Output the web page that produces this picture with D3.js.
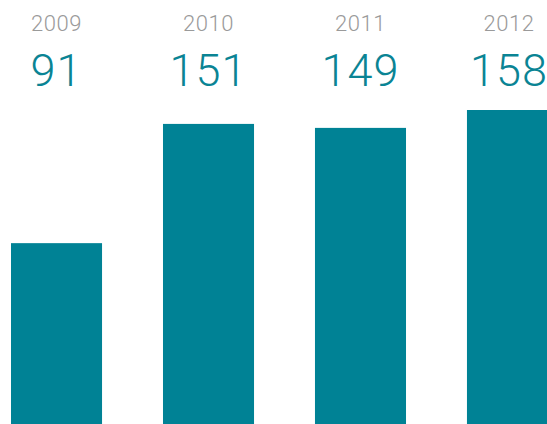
<html>
<head>
  <title></title>
  <style>
    body { margin: 0; background: #fff; }
    svg { display: block; }
  </style>
</head>
<body>
</body>
</html>

<script src="https://d3js.org/d3.v7.min.js"></script>
<script type="text/javascript">

var width = 547,
    height = 424;

var years = ["2009", "2010", "2011", "2012"];
var values = [91, 151, 149, 158];

var data = years.map(function(d, i){ return {year: d, value: values[i]}; });

// bars run past the right edge a little, like in the original
var x = d3.scaleBand().domain(years).range([11, 558]).paddingInner(0.401).paddingOuter(0);
var y = d3.scaleLinear().domain([0, 158]).range([height, 110]);

var svg = d3.select("body").append("svg").attr("width", width).attr("height", height);

svg.selectAll("rect")
  .data(data)
  .enter()
  .append("rect")
  .attr("x", function(d){ return x(d.year); })
  .attr("y", function(d){ return y(d.value); })
  .attr("width", x.bandwidth())
  .attr("height", function(d){ return y(0) - y(d.value); })
  .style("fill", "#008295");

// keep the last labels inside the window
function cx(d){ return Math.min(x(d.year) + x.bandwidth() / 2, 509); }

svg.selectAll("text.year")
  .data(data)
  .enter()
  .append("text")
  .attr("class", "year")
  .attr("x", cx)
  .attr("y", 31)
  .attr("text-anchor", "middle")
  .style("font-family", "Roboto, sans-serif")
  .style("font-weight", 300)
  .style("font-size", "22px")
  .style("letter-spacing", "0.5px")
  .style("fill", "#9a9a9a")
  .text(function(d){ return d.year; });

svg.selectAll("text.value")
  .data(data)
  .enter()
  .append("text")
  .attr("class", "value")
  .attr("x", cx)
  .attr("y", 86)
  .attr("text-anchor", "middle")
  .style("font-family", "Roboto, sans-serif")
  .style("font-weight", 300)
  .style("font-size", "45px")
  .style("letter-spacing", "1px")
  .style("fill", "#0a8494")
  .text(function(d){ return d.value; });

</script>
